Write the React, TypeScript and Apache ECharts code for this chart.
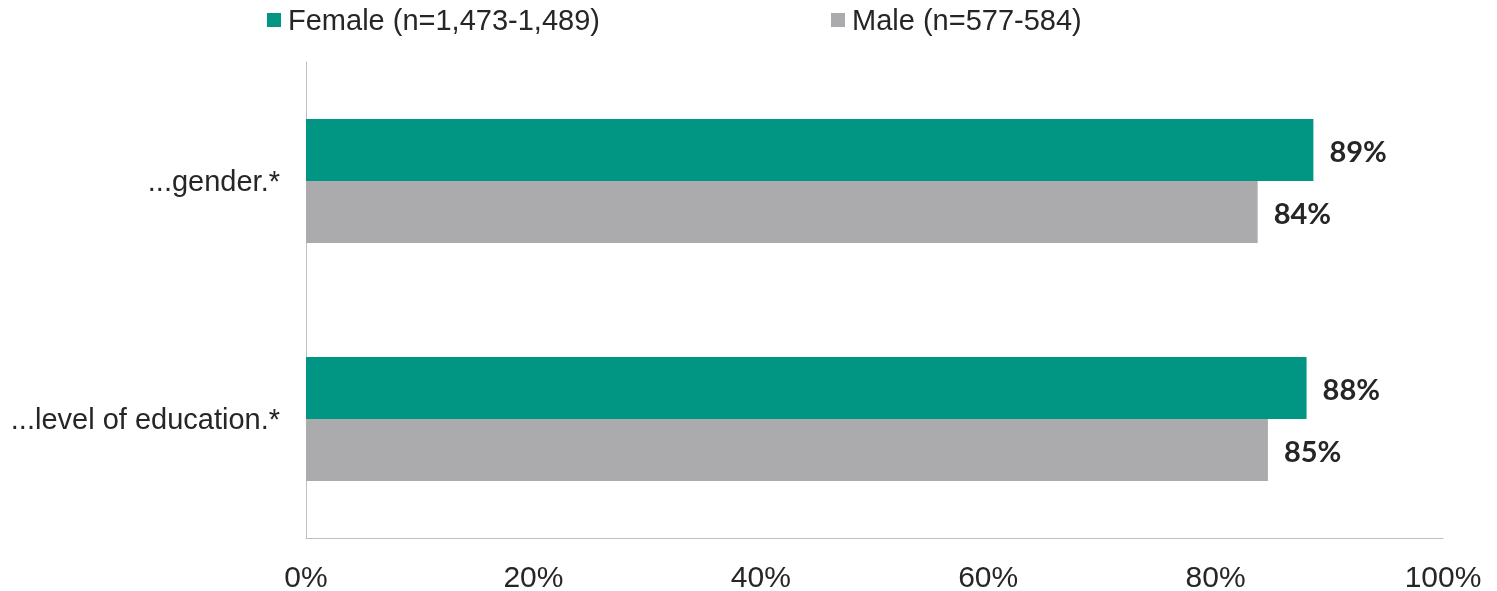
import React, { useEffect, useRef } from "react";
import * as echarts from "echarts";

const categories = ["...gender.*", "...level of education.*"];
const femaleValues = [88.6, 88.0];
const maleValues = [83.7, 84.6];
const seriesNames = ["Female (n=1,473-1,489)", "Male (n=577-584)"];
const xTicks = { min: 0, max: 100, interval: 20 };

export default function App() {
  const ref = useRef<HTMLDivElement>(null);
  useEffect(() => {
    if (!ref.current) return;
    document.body.style.overflow = "hidden";
    const chart = echarts.init(ref.current, null, { renderer: "svg" });
    const labelStyle = {
      show: true,
      position: "right",
      distance: 16,
      formatter: (p: any) => Math.round(p.value) + "%",
      fontFamily: "Lato",
      fontWeight: "bold",
      fontSize: 29,
      color: "#262626",
    };
    const legendText = {
      fontFamily: "'Liberation Sans', Arial, sans-serif",
      fontSize: 29,
      color: "#262626",
      padding: [0, 0, 0, 2],
      lineHeight: 30,
    };
    chart.setOption({
      animation: false,
      legend: [
        {
          data: [seriesNames[0]],
          left: 262,
          top: 0,
          itemWidth: 14,
          itemHeight: 14,
          icon: "rect",
          textStyle: legendText,
        },
        {
          data: [seriesNames[1]],
          left: 826,
          top: 0,
          itemWidth: 14,
          itemHeight: 14,
          icon: "rect",
          textStyle: legendText,
        },
      ],
      grid: { left: 306, right: 54, top: 62, bottom: 53, containLabel: false },
      xAxis: {
        type: "value",
        min: xTicks.min,
        max: xTicks.max,
        interval: xTicks.interval,
        axisLine: { show: true, lineStyle: { color: "#BFBFBF", width: 1 } },
        axisTick: { show: false },
        splitLine: { show: false },
        axisLabel: {
          formatter: "{value}%",
          fontFamily: "'Liberation Sans', Arial, sans-serif",
          fontSize: 30,
          color: "#262626",
          margin: 23,
        },
      },
      yAxis: {
        type: "category",
        data: categories,
        inverse: true,
        axisLine: { show: true, lineStyle: { color: "#BFBFBF", width: 1 } },
        axisTick: { show: false },
        axisLabel: {
          fontFamily: "'Liberation Sans', Arial, sans-serif",
          fontSize: 29,
          color: "#262626",
          margin: 26,
        },
      },
      series: [
        {
          name: seriesNames[0],
          type: "bar",
          data: femaleValues,
          barWidth: 62,
          barGap: "0%",
          itemStyle: { color: "#009683" },
          label: labelStyle,
        },
        {
          name: seriesNames[1],
          type: "bar",
          data: maleValues,
          barWidth: 62,
          barGap: "0%",
          itemStyle: { color: "#ABABAD" },
          label: labelStyle,
        },
      ],
    });
    return () => chart.dispose();
  }, []);
  return (
    <div
      ref={ref}
      style={{ position: "fixed", left: 0, top: 0, width: 1497, height: 591 }}
    />
  );
}
